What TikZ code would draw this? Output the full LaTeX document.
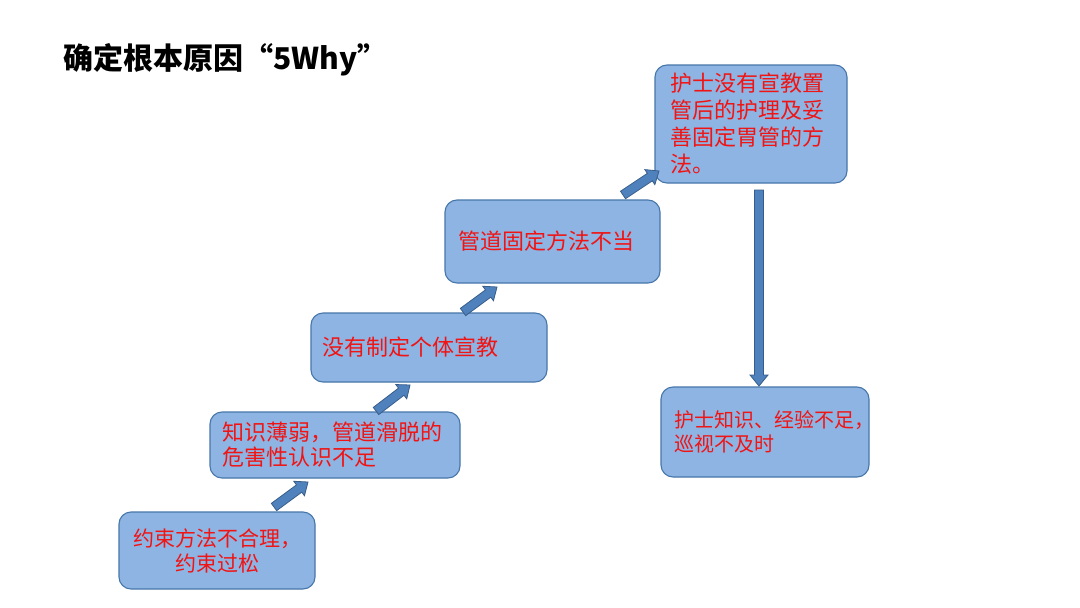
\documentclass[tikz,border=0pt]{standalone}
\usepackage{fontspec}
\setmainfont{Noto Sans CJK SC}
\usetikzlibrary{calc}
\definecolor{boxfill}{RGB}{142,180,227}
\definecolor{boxline}{RGB}{70,118,170}
\definecolor{arrfill}{RGB}{79,129,189}
\definecolor{arrline}{RGB}{56,93,138}
\definecolor{txtred}{RGB}{240,20,20}
\tikzset{
  causebox/.style={rectangle, rounded corners=12pt, draw=boxline, fill=boxfill, line width=1.1pt,
    inner ysep=0pt, text=txtred, align=left},
  barrow/.style={draw=arrline, fill=arrfill, line width=0.8pt, line join=miter}
}
\newcommand\blockarrow[2]{%
  \coordinate (BAneck) at ($(#2)!11pt!(#1)$);
  \filldraw[barrow] ($(#1)!4.5pt!90:(#2)$) -- ($(BAneck)!4.5pt!90:(#2)$) -- ($(BAneck)!9pt!90:(#2)$)
    -- (#2) -- ($(BAneck)!9pt!-90:(#2)$) -- ($(BAneck)!4.5pt!-90:(#2)$) -- ($(#1)!4.5pt!-90:(#2)$) -- cycle;
}
\begin{document}
\begin{tikzpicture}[x=1pt,y=-1pt]
\useasboundingbox[fill=white] (0,0) rectangle (1080,608);
\node[anchor=west, font=\fontsize{30}{36}\selectfont\bfseries] (title) at (60,60) {确定根本原因“5Why”};

\node[causebox, align=center, text width=176pt, inner xsep=10pt, minimum height=77pt,
  font=\fontsize{21}{25}\selectfont] (b1) at (217,550.5) {约束方法不合理，\\约束过松};
\node[causebox, text width=226pt, inner xsep=12pt, minimum height=66pt,
  font=\fontsize{22}{25}\selectfont] (b2) at (335,445) {知识薄弱，管道滑脱的\\危害性认识不足};
\node[causebox, text width=214pt, inner xsep=11pt, minimum height=69pt,
  font=\fontsize{22}{26}\selectfont] (b3) at (429,347.5) {没有制定个体宣教};
\node[causebox, text width=189pt, inner xsep=13pt, minimum height=83pt,
  font=\fontsize{22}{26}\selectfont] (b4) at (552.5,241.5) {管道固定方法不当};
\node[causebox, text width=162pt, inner xsep=15pt, minimum height=118pt,
  font=\fontsize{22}{27}\selectfont] (b5) at (751,124) {护士没有宣教置\\管后的护理及妥\\善固定胃管的方\\法。};
\node[causebox, text width=182pt, inner xsep=13pt, minimum height=90pt,
  font=\fontsize{20}{24}\selectfont] (b6) at (765,432) {护士知识、经验不足，\\巡视不及时};

\coordinate (a1s) at (274,507); \coordinate (a1e) at (308,482);
\coordinate (a2s) at (376,411); \coordinate (a2e) at (410,385);
\coordinate (a3s) at (463,312); \coordinate (a3e) at (497,287);
\coordinate (a4s) at (623,195); \coordinate (a4e) at (659,171);
\coordinate (a5s) at (759,190); \coordinate (a5e) at (759,386);
\blockarrow{a1s}{a1e}
\blockarrow{a2s}{a2e}
\blockarrow{a3s}{a3e}
\blockarrow{a4s}{a4e}
\blockarrow{a5s}{a5e}
\end{tikzpicture}
\end{document}
